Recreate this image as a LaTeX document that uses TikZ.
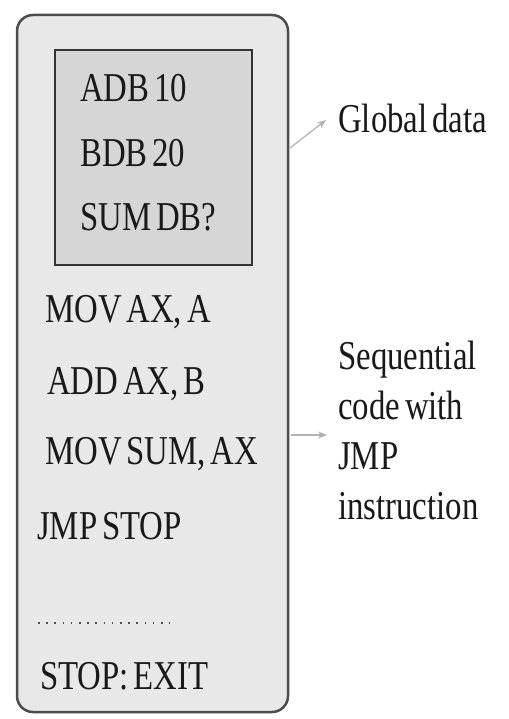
\documentclass[tikz,border=0pt]{standalone}
\usepackage{fontspec}
\setmainfont[FakeStretch=0.8,WordSpace=0.6]{Liberation Serif}
\usetikzlibrary{arrows.meta}
\begin{document}
\begin{tikzpicture}[x=1pt,y=-1pt,
  txt/.style={anchor=base west,inner sep=0pt,text=black!90,font=\fontsize{41}{50}\selectfont},
  lbl/.style={txt,align=left},
  arr/.style={draw=black!30,line width=1.2pt,-{Stealth[length=9pt,width=7pt]}}]
\useasboundingbox (0,0) rectangle (508,719);
\fill[white] (0,0) rectangle (508,719);
\node[draw=black!70,line width=2.5pt,fill=black!9,rounded corners=16pt,minimum width=271pt,minimum height=697pt,inner sep=0pt] (prog) at (152.5,363.5) {};
\node[draw=black!80,line width=2pt,fill=black!16,minimum width=197pt,minimum height=215pt,inner sep=0pt] (data) at (153.5,157.5) {};
\node[txt] (l1) at (80,102) {ADB 10};
\node[txt] (l2) at (80,167) {BDB 20};
\node[txt] (l3) at (80,230) {SUM DB?};
\node[txt] (c1) at (45,322) {MOV AX, A};
\node[txt] (c2) at (47,394) {ADD AX, B};
\node[txt] (c3) at (45,464) {MOV SUM, AX};
\node[txt] (c4) at (37,539) {JMP STOP};
\node[txt] (c5) at (40,689) {STOP: EXIT};
\draw[black!70,line width=1.6pt,dash pattern=on 1.6pt off 6.6pt] (38,623) -- (170,623);
\node[txt] (glob) at (338,133) {Global data};
\node[lbl,anchor=north west] (seq) at (338,341) {Sequential\\code with\\JMP\\instruction};
\coordinate (ga) at (290,148);
\coordinate (sa) at (291,435);
\draw[arr] (ga) -- (326,120);
\draw[arr] (sa) -- (327,435);
\end{tikzpicture}
\end{document}
